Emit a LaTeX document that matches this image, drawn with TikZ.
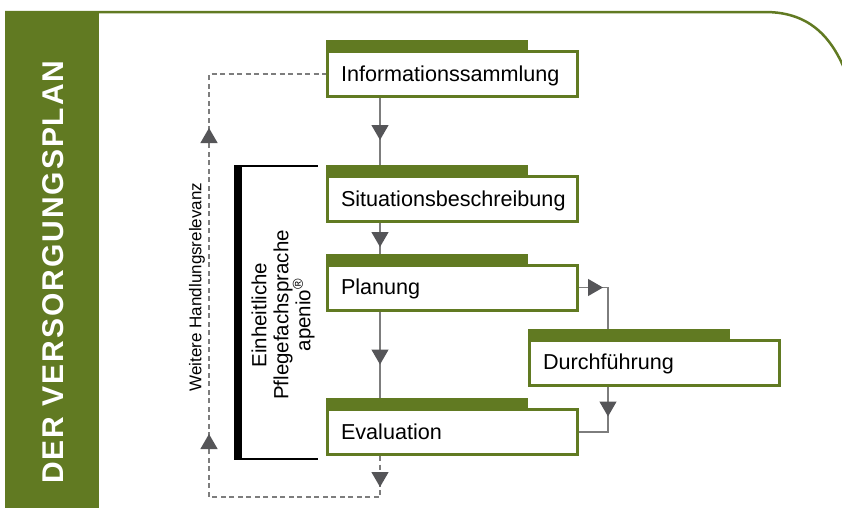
\documentclass[tikz,border=0pt]{standalone}
\usepackage{fontspec}
\setmainfont{Liberation Sans}
\usetikzlibrary{arrows.meta,decorations.markings,backgrounds}

\definecolor{apgruen}{RGB}{97,122,34}
\definecolor{pfeilgrau}{RGB}{85,85,88}
\definecolor{liniengrau}{RGB}{125,125,125}

\begin{document}
\begin{tikzpicture}[x=1pt, y=-1pt]
    \useasboundingbox (0,0) rectangle (842,515);

    \tikzset{schritt/.style={draw=apgruen, line width=3pt, fill=white,
        minimum height=45pt, text width=223pt, inner xsep=13.5pt, inner ysep=0pt,
        align=left, text height=15pt, text depth=0.5pt,
        font=\fontsize{21.6}{21.6}\selectfont,
        append after command={\pgfextra{\fill[apgruen] (\tikzlastnode.north west) rectangle ++(202,-10);}}}}
    \tikzset{verbindung/.style={draw=liniengrau, line width=1.3pt}}
    \tikzset{mitpfeil/.style={postaction={decorate, decoration={markings,
        mark=at position #1 with {\arrow[pfeilgrau]{Triangle[width=17pt, length=15pt]}}}}}}

    \fill[apgruen] (5,11) rectangle (99,508);
    \draw[apgruen, line width=2.5pt] (5,12) -- (765,12) .. controls (812,12) and (834,40) .. (848,78);
    \node[rotate=90, anchor=base, text=white, font=\bfseries\fontsize{30}{30}\selectfont\addfontfeatures{LetterSpace=6.5}] (titel) at (63.5,272) {DER VERSORGUNGSPLAN};

    \node[schritt] (info)  at (452.5,74)    {Informationssammlung};
    \node[schritt] (situ)  at (452.5,199)   {Situationsbeschreibung};
    \node[schritt] (plan)  at (452.5,287.5) {Planung};
    \node[schritt] (durch) at (654.5,362.5) {Durchführung};
    \node[schritt] (eval)  at (452.5,432)   {Evaluation};

    \fill[black] (234,165) rectangle (242,460);
    \draw[line width=2.5pt] (242,166.2) -- (318,166.2) (242,458.8) -- (318,458.8);

    \node[rotate=90, align=center, font=\fontsize{20.5}{22}\selectfont] (sprache) at (283,315)
        {Einheitliche\\Pflegefachsprache\\apenio\textsuperscript{®}};
    \node[rotate=90, font=\fontsize{17}{18}\selectfont] (relevanz) at (197,287) {Weitere Handlungsrelevanz};

    \begin{pgfonlayer}{background}
    \draw[verbindung, mitpfeil=42pt] ([xshift=54pt]info.south west) -- ([xshift=54pt]situ.north west);
    \draw[verbindung, mitpfeil=24pt] ([xshift=54pt]situ.south west) -- ([xshift=54pt]plan.north west);
    \draw[verbindung, mitpfeil=53pt] ([xshift=54pt]plan.south west) -- ([xshift=54pt]eval.north west);
    \draw[verbindung, mitpfeil=24pt] (plan.east) -| ([xshift=80pt]durch.north west);
    \draw[verbindung, mitpfeil=30pt] ([xshift=80pt]durch.south west) |- (eval.east);
    \draw[verbindung, dash pattern=on 5pt off 3.5pt, mitpfeil=31pt, mitpfeil=275pt, mitpfeil=581pt]
        ([xshift=54pt]eval.south west) -- ++(0,41) -| ([xshift=-117pt]info.west) -- (info.west);
    \end{pgfonlayer}
\end{tikzpicture}
\end{document}
